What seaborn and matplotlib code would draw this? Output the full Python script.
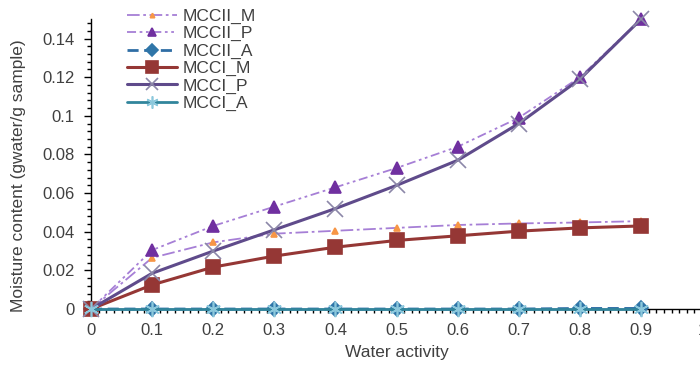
import matplotlib
matplotlib.use("Agg")
import matplotlib.pyplot as plt
import seaborn as sns
import pandas as pd
from matplotlib.ticker import MultipleLocator, FuncFormatter

water_activity = [0, 0.1, 0.2, 0.3, 0.4, 0.5, 0.6, 0.7, 0.8, 0.9]
mccii_m = [0, 0.0265, 0.0345, 0.039, 0.0405, 0.042, 0.0435, 0.0443, 0.0448, 0.0455]
mccii_p = [0, 0.0305, 0.043, 0.053, 0.063, 0.073, 0.084, 0.099, 0.120, 0.150]
mccii_a = [0, 0, 0, 0, 0, 0, 0, 0, 0.0003, 0.0003]
mcci_m = [0, 0.0125, 0.0217, 0.0274, 0.032, 0.0355, 0.0379, 0.0403, 0.042, 0.043]
mcci_p = [0, 0.0185, 0.030, 0.041, 0.052, 0.064, 0.077, 0.096, 0.119, 0.150]
mcci_a = [0, 0, 0, 0, 0, 0, 0, 0, 0, 0]

series = {
    "MCCII_M": mccii_m,
    "MCCII_P": mccii_p,
    "MCCII_A": mccii_a,
    "MCCI_M": mcci_m,
    "MCCI_P": mcci_p,
    "MCCI_A": mcci_a,
}

styles = {
    "MCCII_M": dict(color="#A67FD6", lw=1.3, dashes=(7, 2, 1.5, 2), marker="^", ms=4,
                    mfc="#F79646", mec="#F79646"),
    "MCCII_P": dict(color="#A67FD6", lw=1.3, dashes=(5, 2, 1.5, 2, 1.5, 2), marker="^", ms=8,
                    mfc="#7030A0", mec="#7030A0"),
    "MCCII_A": dict(color="#2F6EA5", lw=2.0, dashes=(4, 2), marker="D", ms=7.5,
                    mfc="#2F75A8", mec="#2F75A8"),
    "MCCI_M": dict(color="#953735", lw=2.2, dashes=None, marker="s", ms=10.5,
                   mfc="#953735", mec="#953735"),
    "MCCI_P": dict(color="#5F4B8B", lw=2.2, dashes=None, marker="x", ms=11,
                   mfc="#8C87A8", mec="#8C87A8"),
    "MCCI_A": dict(color="#31859C", lw=2.0, dashes=None, marker=(6, 2, 0), ms=11,
                   mfc="#8CC8DC", mec="#8CC8DC"),
}

sns.set_style("ticks")
plt.rcParams["font.family"] = ["Liberation Sans", "DejaVu Sans"]

fig = plt.figure(figsize=(7.0, 3.67), dpi=100)
ax = fig.add_axes([0.13, 0.1580, 0.873, 0.7895])

for name, vals in series.items():
    st = styles[name]
    df = pd.DataFrame({"aw": water_activity, "mc": vals})
    sns.lineplot(data=df, x="aw", y="mc", ax=ax, color=st["color"], linewidth=st["lw"],
                 marker=st["marker"], markersize=st["ms"], markerfacecolor=st["mfc"],
                 markeredgecolor=st["mec"], markeredgewidth=1.2, label=name,
                 clip_on=False, zorder=3)
    line = ax.get_lines()[-1]
    if st["dashes"] is not None:
        line.set_dashes(st["dashes"])

ax.set_xlim(0, 1)
ax.set_ylim(0, 0.15)
ax.xaxis.set_major_locator(MultipleLocator(0.1))
ax.xaxis.set_minor_locator(MultipleLocator(0.0125))
ax.yaxis.set_major_locator(MultipleLocator(0.02))
ax.yaxis.set_minor_locator(MultipleLocator(0.004))
fmt = FuncFormatter(lambda v, p: ("%g" % round(v, 3)))
ax.xaxis.set_major_formatter(fmt)
ax.yaxis.set_major_formatter(fmt)

sns.despine(ax=ax)
for s in ["left", "bottom"]:
    ax.spines[s].set_color("black")
    ax.spines[s].set_linewidth(1.0)
ax.tick_params(axis="both", which="major", labelsize=12, colors="black", labelcolor="#404040",
               direction="out", length=5, width=1)
ax.tick_params(axis="both", which="minor", direction="out", length=3, width=1, colors="black")
ax.tick_params(axis="x", which="major", pad=5)
ax.tick_params(axis="y", which="major", pad=7)

ax.set_xlabel("Water activity", fontsize=12.5, color="#404040", labelpad=5)
ax.set_ylabel("Moisture content (gwater/g sample)", fontsize=12.5, color="#404040")
ax.yaxis.set_label_coords(-0.106, 0.46)

leg = ax.legend(loc="upper left", bbox_to_anchor=(0.047, 1.06), frameon=False, fontsize=12.5,
                handlelength=2.9, handletextpad=0.35, labelspacing=0.12, borderaxespad=0,
                markerscale=0.8)
for t in leg.get_texts():
    t.set_color("#404040")

fig.savefig("out.png", dpi=100)
